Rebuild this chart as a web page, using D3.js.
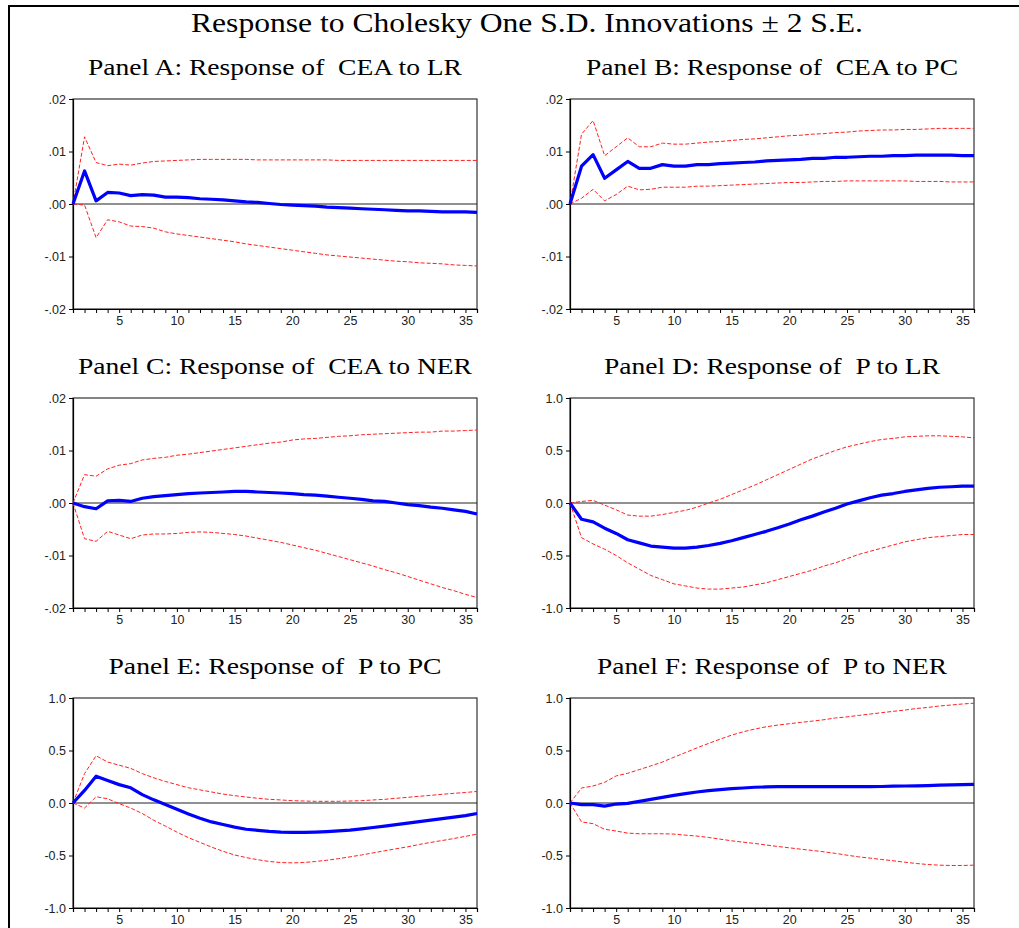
<!DOCTYPE html>
<html>
<head>
<meta charset="utf-8">
<script src="https://cdn.jsdelivr.net/npm/d3@7"></script>
<style>
    body { margin: 0; background: #fff; }
    svg { display: block; }
    .title { white-space: pre; }
</style>
</head>
<body>
<script>
// periods 1..36
var periods = d3.range(1, 37);
var xTickLabels = [5, 10, 15, 20, 25, 30, 35];

var ceaTicks = [0.02, 0.01, 0, -0.01, -0.02];
var ceaTickLabels = [".02", ".01", ".00", "-.01", "-.02"];
var pTicks = [1, 0.5, 0, -0.5, -1];
var pTickLabels = ["1.0", "0.5", "0.0", "-0.5", "-1.0"];

var mainTitle = "Response to Cholesky One S.D. Innovations \u00b1 2 S.E.";
var panelTitles = [
    "Panel A: Response of  CEA to LR",
    "Panel B: Response of  CEA to PC",
    "Panel C: Response of  CEA to NER",
    "Panel D: Response of  P to LR",
    "Panel E: Response of  P to PC",
    "Panel F: Response of  P to NER"
];

// Panel A: CEA to LR
var respA = [0, 0.0063, 0.0006, 0.0022, 0.0021, 0.0016, 0.0018, 0.0017, 0.0013, 0.0013, 0.0012, 0.0010,
    0.0009, 0.0008, 0.0006, 0.0004, 0.0003, 0.0001, -0.0001, -0.0002, -0.0003, -0.0004, -0.0006, -0.0007,
    -0.0008, -0.0009, -0.0010, -0.0011, -0.0012, -0.0013, -0.0013, -0.0014, -0.0015, -0.0015, -0.0015, -0.0016];
var upA = [0, 0.0128, 0.0079, 0.0073, 0.0076, 0.0074, 0.0078, 0.0081, 0.0082, 0.0083, 0.0084, 0.0085,
    0.0085, 0.0085, 0.0085, 0.0085, 0.0084, 0.0084, 0.0084, 0.0084, 0.0084, 0.0084, 0.0084, 0.0083,
    0.0083, 0.0083, 0.0083, 0.0083, 0.0083, 0.0083, 0.0083, 0.0083, 0.0083, 0.0083, 0.0083, 0.0083];
var loA = [0, -0.0002, -0.0064, -0.0030, -0.0034, -0.0042, -0.0043, -0.0046, -0.0053, -0.0057, -0.0060, -0.0063,
    -0.0066, -0.0069, -0.0072, -0.0076, -0.0079, -0.0082, -0.0085, -0.0088, -0.0091, -0.0094, -0.0097, -0.0099,
    -0.0101, -0.0103, -0.0105, -0.0107, -0.0109, -0.0110, -0.0112, -0.0113, -0.0114, -0.0116, -0.0117, -0.0118];

// Panel B: CEA to PC
var respB = [0, 0.0072, 0.0094, 0.0049, 0.0065, 0.0081, 0.0068, 0.0068, 0.0075, 0.0072, 0.0072, 0.0075,
    0.0075, 0.0077, 0.0078, 0.0079, 0.0080, 0.0082, 0.0083, 0.0084, 0.0085, 0.0087, 0.0087, 0.0089,
    0.0089, 0.0090, 0.0091, 0.0091, 0.0092, 0.0092, 0.0093, 0.0093, 0.0093, 0.0093, 0.0092, 0.0092];
var upB = [0, 0.0133, 0.0159, 0.0092, 0.0109, 0.0126, 0.0109, 0.0109, 0.0116, 0.0114, 0.0114, 0.0116,
    0.0118, 0.0119, 0.0121, 0.0123, 0.0124, 0.0126, 0.0128, 0.0130, 0.0131, 0.0133, 0.0134, 0.0136,
    0.0137, 0.0139, 0.0140, 0.0141, 0.0141, 0.0142, 0.0142, 0.0143, 0.0144, 0.0144, 0.0144, 0.0144];
var loB = [0, 0.0011, 0.0028, 0.0006, 0.0018, 0.0034, 0.0027, 0.0028, 0.0032, 0.0032, 0.0032, 0.0034,
    0.0034, 0.0035, 0.0036, 0.0037, 0.0038, 0.0039, 0.0040, 0.0041, 0.0041, 0.0042, 0.0043, 0.0043,
    0.0044, 0.0044, 0.0044, 0.0044, 0.0044, 0.0044, 0.0043, 0.0043, 0.0043, 0.0042, 0.0042, 0.0042];

// Panel C: CEA to NER
var respC = [0, -0.0007, -0.0011, 0.0004, 0.0005, 0.0003, 0.0009, 0.0012, 0.0014, 0.0016, 0.0018, 0.0019,
    0.0020, 0.0021, 0.0022, 0.0022, 0.0021, 0.0020, 0.0019, 0.0018, 0.0016, 0.0015, 0.0013, 0.0011,
    0.0009, 0.0007, 0.0004, 0.0003, 0.0000, -0.0003, -0.0005, -0.0008, -0.0010, -0.0013, -0.0016, -0.0021];
var upC = [0, 0.0054, 0.0051, 0.0065, 0.0072, 0.0075, 0.0082, 0.0085, 0.0087, 0.0091, 0.0093, 0.0096,
    0.0099, 0.0102, 0.0105, 0.0108, 0.0111, 0.0114, 0.0116, 0.0120, 0.0122, 0.0123, 0.0125, 0.0127,
    0.0128, 0.0130, 0.0131, 0.0132, 0.0133, 0.0134, 0.0135, 0.0135, 0.0137, 0.0137, 0.0138, 0.0139];
var loC = [0, -0.0068, -0.0073, -0.0054, -0.0061, -0.0068, -0.0061, -0.0059, -0.0059, -0.0058, -0.0056, -0.0055,
    -0.0056, -0.0058, -0.0060, -0.0063, -0.0067, -0.0071, -0.0075, -0.0080, -0.0085, -0.0090, -0.0096, -0.0102,
    -0.0108, -0.0114, -0.0120, -0.0127, -0.0133, -0.0140, -0.0147, -0.0154, -0.0161, -0.0167, -0.0174, -0.0180];

// Panel D: P to LR
var respD = [0, -0.155, -0.18, -0.24, -0.29, -0.35, -0.38, -0.41, -0.42, -0.43, -0.43, -0.42,
    -0.405, -0.385, -0.36, -0.33, -0.30, -0.27, -0.235, -0.20, -0.16, -0.125, -0.085, -0.05,
    -0.01, 0.02, 0.05, 0.075, 0.09, 0.11, 0.125, 0.14, 0.15, 0.155, 0.16, 0.16];
var upD = [0, 0.015, 0.025, -0.02, -0.065, -0.115, -0.125, -0.125, -0.11, -0.09, -0.07, -0.04,
    0.0, 0.035, 0.08, 0.125, 0.17, 0.22, 0.27, 0.32, 0.37, 0.42, 0.46, 0.50,
    0.535, 0.56, 0.585, 0.605, 0.615, 0.63, 0.635, 0.64, 0.64, 0.635, 0.63, 0.62];
var loD = [0, -0.33, -0.39, -0.44, -0.50, -0.57, -0.63, -0.69, -0.73, -0.77, -0.79, -0.81,
    -0.82, -0.82, -0.81, -0.80, -0.78, -0.76, -0.73, -0.70, -0.67, -0.64, -0.60, -0.57,
    -0.53, -0.49, -0.46, -0.43, -0.40, -0.37, -0.35, -0.33, -0.32, -0.31, -0.30, -0.30];

// Panel E: P to PC
var respE = [0, 0.12, 0.255, 0.215, 0.175, 0.145, 0.08, 0.03, -0.015, -0.06, -0.105, -0.145,
    -0.18, -0.205, -0.23, -0.25, -0.26, -0.27, -0.277, -0.28, -0.28, -0.277, -0.272, -0.266,
    -0.258, -0.246, -0.233, -0.22, -0.206, -0.192, -0.178, -0.163, -0.148, -0.134, -0.12, -0.1];
var upE = [0, 0.28, 0.45, 0.39, 0.36, 0.33, 0.28, 0.24, 0.205, 0.175, 0.145, 0.125,
    0.105, 0.085, 0.07, 0.057, 0.045, 0.035, 0.029, 0.022, 0.019, 0.016, 0.016, 0.016,
    0.019, 0.022, 0.029, 0.035, 0.045, 0.054, 0.064, 0.073, 0.083, 0.092, 0.1, 0.11];
var loE = [0, -0.048, 0.06, 0.04, -0.006, -0.048, -0.1, -0.165, -0.22, -0.277, -0.33, -0.375,
    -0.42, -0.46, -0.495, -0.52, -0.54, -0.557, -0.567, -0.57, -0.567, -0.557, -0.545, -0.53,
    -0.513, -0.495, -0.475, -0.455, -0.436, -0.417, -0.395, -0.375, -0.357, -0.338, -0.318, -0.296];

// Panel F: P to NER
var respF = [0, -0.016, -0.016, -0.03, -0.01, -0.003, 0.016, 0.035, 0.054, 0.073, 0.09, 0.105,
    0.118, 0.127, 0.137, 0.143, 0.15, 0.153, 0.156, 0.156, 0.156, 0.156, 0.156, 0.156,
    0.156, 0.156, 0.156, 0.157, 0.16, 0.162, 0.163, 0.166, 0.17, 0.172, 0.175, 0.178];
var upF = [0, 0.143, 0.162, 0.197, 0.258, 0.283, 0.318, 0.353, 0.39, 0.436, 0.48, 0.525,
    0.567, 0.608, 0.646, 0.678, 0.704, 0.726, 0.742, 0.755, 0.768, 0.78, 0.793, 0.81,
    0.82, 0.834, 0.847, 0.86, 0.873, 0.885, 0.9, 0.91, 0.924, 0.933, 0.943, 0.95];
var loF = [0, -0.18, -0.197, -0.25, -0.267, -0.287, -0.293, -0.293, -0.293, -0.296, -0.306, -0.315,
    -0.328, -0.344, -0.36, -0.373, -0.385, -0.4, -0.414, -0.427, -0.44, -0.452, -0.465, -0.48,
    -0.497, -0.513, -0.525, -0.538, -0.55, -0.564, -0.576, -0.586, -0.592, -0.595, -0.595, -0.592];

var width = 1019, height = 928;

var svg = d3.select("body")
    .append("svg")
    .attr("width", width)
    .attr("height", height);

// outer frame (runs off the right and bottom edges)
svg.append("path")
    .attr("d", "M9,940 V6 H1040")
    .attr("fill", "none")
    .attr("stroke", "#000")
    .attr("stroke-width", 2);

svg.append("text")
    .attr("class", "title")
    .attr("x", 527)
    .attr("y", 32)
    .attr("text-anchor", "middle")
    .attr("textLength", 672)
    .attr("lengthAdjust", "spacingAndGlyphs")
    .style("font-family", "'Liberation Serif', 'Times New Roman', serif")
    .style("font-size", "27px")
    .text(mainTitle);

// panel layout
var colLeft = [73, 570];
var rowTop = [99, 398, 698];
var plotW = 404, plotH = 210;
var titleWidths = [374, 372, 394, 336, 333, 350];

var panels = [
    { resp: respA, up: upA, lo: loA, ticks: ceaTicks, labels: ceaTickLabels, dom: 0.02 },
    { resp: respB, up: upB, lo: loB, ticks: ceaTicks, labels: ceaTickLabels, dom: 0.02 },
    { resp: respC, up: upC, lo: loC, ticks: ceaTicks, labels: ceaTickLabels, dom: 0.02 },
    { resp: respD, up: upD, lo: loD, ticks: pTicks, labels: pTickLabels, dom: 1 },
    { resp: respE, up: upE, lo: loE, ticks: pTicks, labels: pTickLabels, dom: 1 },
    { resp: respF, up: upF, lo: loF, ticks: pTicks, labels: pTickLabels, dom: 1 }
];

panels.forEach(function (p, i) {
    var left = colLeft[i % 2];
    var top = rowTop[Math.floor(i / 2)];

    var x = d3.scaleLinear().domain([1, 36]).range([0, plotW]);
    var y = d3.scaleLinear().domain([-p.dom, p.dom]).range([plotH, 0]);

    var g = svg.append("g")
        .attr("transform", "translate(" + left + "," + top + ")");

    // panel title (keeps the double space)
    g.append("text")
        .attr("class", "title")
        .attr("x", plotW / 2)
        .attr("y", -24)
        .attr("text-anchor", "middle")
        .attr("textLength", titleWidths[i])
        .attr("lengthAdjust", "spacingAndGlyphs")
        .style("font-family", "'Liberation Serif', 'Times New Roman', serif")
        .style("font-size", "23px")
        .text(panelTitles[i]);

    // plot box
    g.append("rect")
        .attr("x", 0)
        .attr("y", 0)
        .attr("width", plotW)
        .attr("height", plotH)
        .attr("fill", "none")
        .attr("stroke", "#333")
        .attr("stroke-width", 1.2);

    // zero line
    g.append("line")
        .attr("x1", 0)
        .attr("x2", plotW)
        .attr("y1", y(0))
        .attr("y2", y(0))
        .attr("stroke", "#222")
        .attr("stroke-width", 1);

    // x axis: a tick every period, label every 5
    var xAxis = d3.axisBottom(x)
        .tickValues(periods)
        .tickSize(4)
        .tickFormat(function (d) { return xTickLabels.indexOf(d) >= 0 ? d : ""; });

    var gx = g.append("g")
        .attr("transform", "translate(0," + plotH + ")")
        .call(xAxis);
    gx.select(".domain").attr("stroke", "#000").attr("stroke-width", 1.2);
    gx.selectAll(".tick line").attr("stroke", "#000");
    gx.selectAll("text")
        .attr("y", 7)
        .attr("fill", "#222")
        .style("font-family", "'Liberation Sans', Arial, sans-serif")
        .style("font-size", "12.5px");

    // y axis
    var yAxis = d3.axisLeft(y)
        .tickValues(p.ticks)
        .tickSize(4)
        .tickFormat(function (d, k) { return p.labels[k]; });

    var gy = g.append("g").call(yAxis);
    gy.select(".domain").attr("stroke", "#000").attr("stroke-width", 1.2);
    gy.selectAll(".tick line").attr("stroke", "#000");
    gy.selectAll("text")
        .attr("x", -7)
        .attr("fill", "#222")
        .style("font-family", "'Liberation Sans', Arial, sans-serif")
        .style("font-size", "12.5px");

    var line = d3.line()
        .x(function (d, k) { return x(periods[k]); })
        .y(function (d) { return y(d); });

    [p.up, p.lo].forEach(function (band) {
        g.append("path")
            .datum(band)
            .attr("fill", "none")
            .attr("stroke", "#ff2020")
            .attr("stroke-width", 1)
            .attr("stroke-dasharray", "4,2")
            .attr("d", line);
    });

    g.append("path")
        .datum(p.resp)
        .attr("fill", "none")
        .attr("stroke", "#0000ff")
        .attr("stroke-width", 3.2)
        .attr("stroke-linejoin", "round")
        .attr("d", line);
});
</script>
</body>
</html>
